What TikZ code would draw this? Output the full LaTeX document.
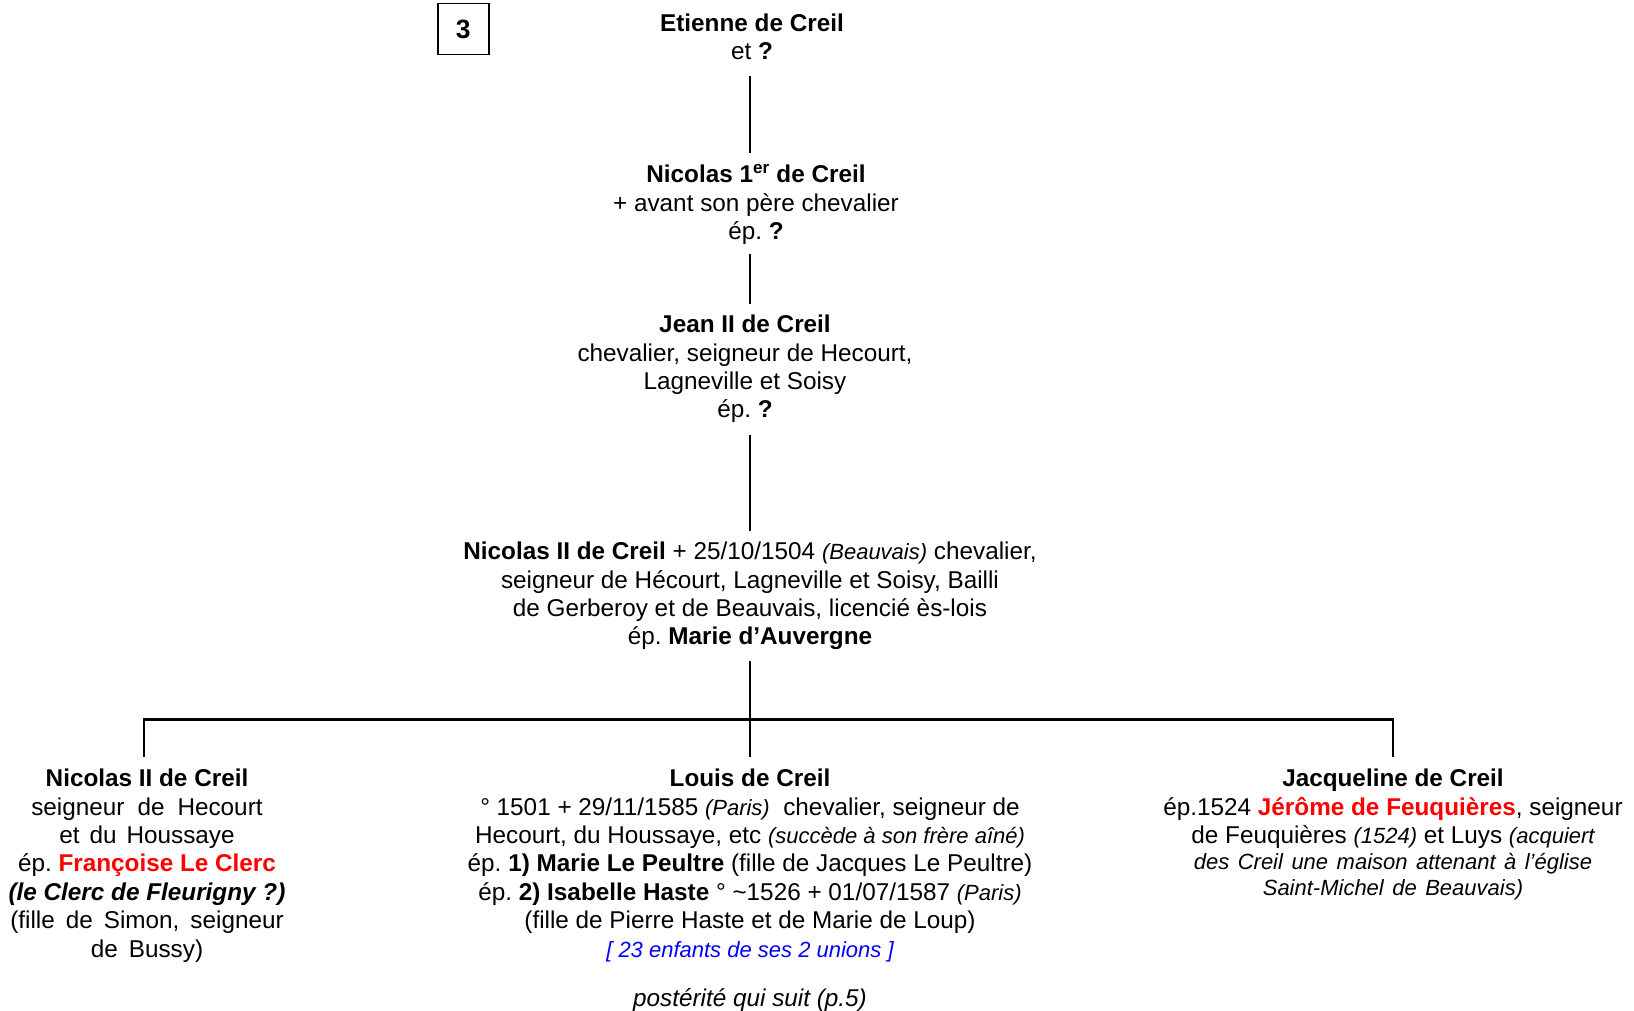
\documentclass[tikz,border=0pt]{standalone}
\usepackage{fontspec}
\setmainfont{Liberation Sans}
\usetikzlibrary{calc}
\definecolor{namered}{RGB}{255,0,0}
\definecolor{noteblue}{RGB}{0,0,255}
\newcommand{\smit}{\fontsize{22}{28.4}\selectfont\itshape}
\newcommand{\firstline}{\rule{0pt}{18pt}}
\frenchspacing
\begin{document}
\begin{tikzpicture}[x=1pt,y=-1pt,
  every node/.style={inner sep=0pt, outer sep=0pt},
  person/.style={align=center, anchor=north, font=\fontsize{24.3}{28.4}\selectfont\frenchspacing},
  link/.style={line width=2.5pt, line join=miter},
  pagebox/.style={draw, line width=1.5pt, minimum width=51pt, minimum height=51pt,
    font=\fontsize{26.5}{28.4}\selectfont\bfseries}]
\useasboundingbox (0,0) rectangle (1634,1011);
\coordinate (axis) at (750,0);
\coordinate (bar) at (750,719.5);

\node[pagebox] (pg) at (463.3,29.2) {3};

\node[person] (et) at (752,13.5) {\firstline\textbf{Etienne de Creil}\\et \textbf{?}};

\node[person] (n1) at (756,164.6) {\firstline\textbf{Nicolas 1\textsuperscript{er} de Creil}\\+ avant son père chevalier\\ép. \textbf{?}};

\node[person] (jean) at (745,314.6) {\firstline\textbf{Jean II de Creil}\\chevalier, seigneur de Hecourt,\\Lagneville et Soisy\\ép. \textbf{?}};

\node[person] (n2) at (750,541.7) {\firstline\textbf{Nicolas II de Creil} + 25/10/1504 {\smit (Beauvais)} chevalier,\\seigneur de Hécourt, Lagneville et Soisy, Bailli\\de Gerberoy et de Beauvais, licencié ès-lois\\ép. \textbf{Marie d’Auvergne}};

\node[person] (nl) at (147,768.6) {\firstline\textbf{Nicolas II de Creil}\\{\spaceskip=13pt\relax seigneur de Hecourt}\\{\spaceskip=10pt\relax et du Houssaye}\\ép. \textcolor{namered}{\textbf{Françoise Le Clerc}}\\\textbf{\textit{(le Clerc de Fleurigny ?)}}\\{\spaceskip=11pt\relax (fille de Simon, seigneur}\\{\spaceskip=11pt\relax de Bussy)}};

\node[person] (lou) at (750,768.6) {\firstline\textbf{Louis de Creil}\\° 1501 + 29/11/1585 {\smit (Paris)}\ \ chevalier, seigneur de\\Hecourt, du Houssaye, etc {\smit (succède à son frère aîné)}\\ép. \textbf{1) Marie Le Peultre} (fille de Jacques Le Peultre)\\ép. \textbf{2) Isabelle Haste} ° \textasciitilde1526 + 01/07/1587 {\smit (Paris)}\\(fille de Pierre Haste et de Marie de Loup)\\{\smit\color{noteblue}[ 23 enfants de ses 2 unions ]}};

\node[person] (post) at (750,988.6) {\firstline\textit{postérité qui suit (p.5)}};

\node[person] (jac) at (1393,768.6) {\firstline\textbf{Jacqueline de Creil}\\ép.1524 \textcolor{namered}{\textbf{Jérôme de Feuquières}}, seigneur\\de Feuquières {\smit (1524)} et Luys {\smit (acquiert}\\[-2pt]{\smit\spaceskip=8.5pt\relax des Creil une maison attenant à l’église}\\[-3pt]{\smit\spaceskip=8.5pt\relax Saint-Michel de Beauvais)}};

\draw[link] ($(et.south -| axis)+(0,16)$) -- ($(n1.north -| axis)+(0,-12)$);
\draw[link] ($(n1.south -| axis)+(0,9)$) -- ($(jean.north -| axis)+(0,-10.6)$);
\draw[link] ($(jean.south -| axis)+(0,12)$) -- ($(n2.north -| axis)+(0,-10.7)$);
\draw[link] ($(n2.south -| axis)+(0,11)$) -- ($(lou.north)+(0,-11.6)$);
\draw[link] ($(nl.north)+(-3,-11.6)$) |- (bar) -| ($(jac.north)+(0,-11.6)$);
\end{tikzpicture}
\end{document}
